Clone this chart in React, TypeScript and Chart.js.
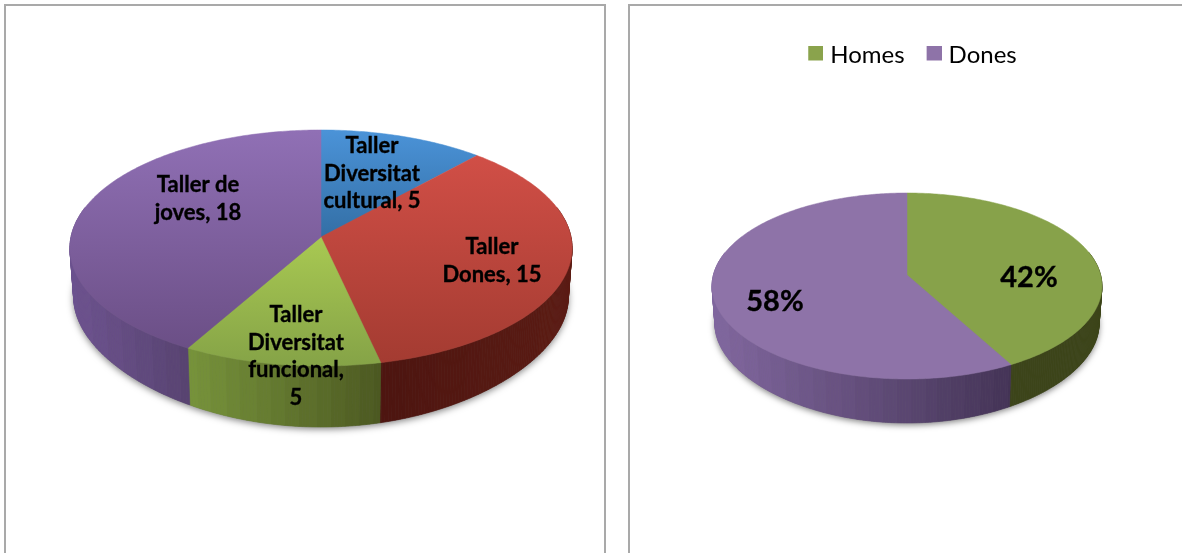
import React, { useEffect, useRef } from "react";
import { Chart, registerables } from "chart.js";

Chart.register(...registerables);

// ---- data ----
const workshopNames = ["Taller Diversitat cultural", "Taller Dones", "Taller Diversitat funcional", "Taller de joves"];
const workshopValues = [5, 15, 5, 18];
const genderNames = ["Homes", "Dones"];
const genderValues = [42, 58];

// ---- label wrapping as in the reference ----
const workshopLabelLines = [
  ["Taller", "Diversitat", `cultural, ${workshopValues[0]}`],
  ["Taller", `Dones, ${workshopValues[1]}`],
  ["Taller", "Diversitat", "funcional,", `${workshopValues[2]}`],
  ["Taller de", `joves, ${workshopValues[3]}`],
];
const genderLabelLines = [[`${genderValues[0]}%`], [`${genderValues[1]}%`]];

// ---- styles ----
type RGB = [number, number, number];
const leftStyle = {
  originX: 0,
  cx: 321, apexY: 237, A: 117, B: 250, k: 0.0932,
  depth0: 49, depth1: 12, shrink: 0.985, band: 15,
  faceTop: [[75, 147, 216], [214, 81, 73], [198, 232, 91], [144, 112, 181]] as RGB[],
  faceBottom: [[22, 67, 104], [163, 59, 49], [133, 163, 71], [104, 76, 130]] as RGB[],
  wallLeft: [[40, 80, 120], [78, 21, 16], [118, 146, 58], [108, 82, 142]] as RGB[],
  wallRight: [[40, 80, 120], [92, 28, 20], [74, 86, 32], [86, 66, 110]] as RGB[],
  wallSpan: [null, [385, 572], [186, 384], [70, 190]] as (number[] | null)[],
  font: "bold 22px Lato",
  lineHeight: 27.5,
  labelCentres: [[372, 146], [492, 247], [296, 315], [198, 185]],
  shadowBlur: 7,
};
const rightStyle = {
  originX: 629,
  cx: 907, apexY: 275, A: 91.7, B: 193.6, k: 0.1182,
  depth0: 38, depth1: 6, shrink: 0.985, band: 14,
  faceTop: [[135, 162, 74], [142, 115, 168]] as RGB[],
  faceBottom: [[135, 162, 74], [142, 115, 168]] as RGB[],
  wallLeft: [[60, 68, 26], [128, 102, 158]] as RGB[],
  wallRight: [[60, 68, 26], [66, 50, 84]] as RGB[],
  wallSpan: [[1012, 1102], [712, 1013]] as (number[] | null)[],
  font: "bold 29px Lato",
  lineHeight: 32,
  labelCentres: [[1029, 278], [775, 302]],
  shadowBlur: 6,
};
const PANEL_BORDER = "#a9a9a9";
const legendColors = ["#8aa34c", "#8e73a8"];

const rgb = (c: number[]) => `rgb(${c.map((n) => Math.round(n)).join(",")})`;
const mix = (a: number[], b: number[], t: number) => a.map((n, i) => n + (b[i] - n) * Math.max(0, Math.min(1, t)));

function tiltPlugin(s: typeof leftStyle, labels: string[][]) {
  const rim = (t: number) => {
    const u = Math.sin(t), v = -Math.cos(t), d = 1 - s.k * v;
    return { x: s.cx + (s.B * u) / d - s.originX, y: s.apexY + (s.A * v) / d, v };
  };
  const base = (t: number) => {
    const p = rim(t);
    const cx = s.cx - s.originX;
    return {
      x: cx + (p.x - cx) * s.shrink,
      y: p.y + s.depth0 + s.depth1 * Math.pow(Math.max(p.v, 0), 3),
    };
  };
  const STEP = Math.PI / 240;
  return {
    id: "tilt",
    beforeDatasetDraw(chart: any, args: any) {
      const ctx: CanvasRenderingContext2D = chart.ctx;
      const arcs = args.meta.data;
      // shadow under the whole solid
      ctx.save();
      ctx.shadowColor = "rgba(0,0,0,0.5)";
      ctx.shadowBlur = s.shadowBlur;
      ctx.shadowOffsetY = 2;
      ctx.fillStyle = "#777";
      ctx.beginPath();
      for (let t = 0; t < Math.PI * 2; t += STEP) {
        const p = base(t);
        t === 0 ? ctx.moveTo(p.x, p.y) : ctx.lineTo(p.x, p.y);
      }
      ctx.closePath();
      ctx.fill();
      ctx.restore();
      // side wall, in vertical bands
      arcs.forEach((el: any, i: number) => {
        const span = s.wallSpan[i];
        if (!span) return;
        const a0 = el.startAngle + Math.PI / 2, a1 = el.endAngle + Math.PI / 2;
        for (let t = a0; t < a1; t += STEP) {
          const t2 = Math.min(t + STEP, a1);
          const p0 = rim(t), p1 = rim(t2);
          if (p0.v < -0.25 && p1.v < -0.25) continue;
          const b0 = base(t), b1 = base(t2);
          const mid = (p0.x + p1.x) / 2 + s.originX;
          const q = Math.floor(mid / s.band) * s.band;
          const col = rgb(mix(s.wallLeft[i], s.wallRight[i], (q - span[0]) / (span[1] - span[0])));
          ctx.fillStyle = col;
          ctx.strokeStyle = col;
          ctx.lineWidth = 0.6;
          ctx.beginPath();
          ctx.moveTo(p0.x, p0.y);
          ctx.lineTo(p1.x, p1.y);
          ctx.lineTo(b1.x, b1.y);
          ctx.lineTo(b0.x, b0.y);
          ctx.closePath();
          ctx.fill();
          ctx.stroke();
        }
      });
      // top faces
      const yTop = rim(0).y, yBottom = rim(Math.PI).y;
      arcs.forEach((el: any, i: number) => {
        const g = ctx.createLinearGradient(0, yTop, 0, yBottom);
        g.addColorStop(0, rgb(s.faceTop[i]));
        g.addColorStop(1, rgb(s.faceBottom[i]));
        ctx.fillStyle = g;
        ctx.strokeStyle = g;
        ctx.lineWidth = 0.5;
        ctx.beginPath();
        ctx.moveTo(s.cx - s.originX, s.apexY);
        const a0 = el.startAngle + Math.PI / 2, a1 = el.endAngle + Math.PI / 2;
        for (let t = a0; t < a1; t += STEP) {
          const p = rim(t);
          ctx.lineTo(p.x, p.y);
        }
        const pe = rim(a1);
        ctx.lineTo(pe.x, pe.y);
        ctx.closePath();
        ctx.fill();
        ctx.stroke();
      });
      return false;
    },
    afterDatasetsDraw(chart: any) {
      const ctx: CanvasRenderingContext2D = chart.ctx;
      ctx.save();
      ctx.fillStyle = "#000";
      ctx.strokeStyle = "#000";
      ctx.lineWidth = 0.35;
      ctx.font = s.font;
      ctx.textAlign = "center";
      ctx.textBaseline = "middle";
      labels.forEach((lines, i) => {
        const [x, y] = s.labelCentres[i];
        lines.forEach((line, j) => {
          ctx.fillText(line, x - s.originX, y + j * s.lineHeight);
          ctx.strokeText(line, x - s.originX, y + j * s.lineHeight);
        });
      });
      ctx.restore();
    },
  };
}

function legendSquare(color: string) {
  const c = document.createElement("canvas");
  c.width = 34;
  c.height = 19;
  const x = c.getContext("2d")!;
  x.fillStyle = color;
  x.fillRect(19, 0, 15, 15);
  return c;
}

export default function App() {
  const leftRef = useRef<HTMLCanvasElement>(null);
  const rightRef = useRef<HTMLCanvasElement>(null);

  useEffect(() => {
    const left = new Chart(leftRef.current!, {
      type: "pie",
      data: {
        labels: workshopNames,
        datasets: [{ data: workshopValues, backgroundColor: ["#4f81bd", "#c0504d", "#9bbb59", "#8064a2"], borderWidth: 0 }],
      },
      options: {
        animation: false,
        responsive: false,
        plugins: { legend: { display: false }, tooltip: { enabled: false } },
      },
      plugins: [tiltPlugin(leftStyle, workshopLabelLines)],
    } as any);
    const right = new Chart(rightRef.current!, {
      type: "pie",
      data: {
        labels: genderNames,
        datasets: [{ data: genderValues, backgroundColor: legendColors, borderWidth: 0 }],
      },
      options: {
        animation: false,
        responsive: false,
        layout: { padding: { top: 35 } },
        plugins: {
          tooltip: { enabled: false },
          legend: {
            display: true,
            position: "top",
            labels: {
              usePointStyle: true,
              boxHeight: 15,
              padding: 8,
              color: "#000",
              font: { family: "Lato", size: 24 },
              generateLabels: () =>
                genderNames.map((text, i) => ({
                  text,
                  index: i,
                  fillStyle: legendColors[i],
                  strokeStyle: legendColors[i],
                  lineWidth: 0,
                  pointStyle: legendSquare(legendColors[i]),
                })),
            },
          },
        },
      },
      plugins: [tiltPlugin(rightStyle as any, genderLabelLines)],
    } as any);
    return () => {
      left.destroy();
      right.destroy();
    };
  }, []);

  const panel = (l: number, w: number): React.CSSProperties => ({
    position: "absolute",
    left: l,
    top: 4,
    width: w,
    height: 560,
    borderLeft: `2px solid ${PANEL_BORDER}`,
    borderRight: `2px solid ${PANEL_BORDER}`,
    borderTop: `2px solid ${PANEL_BORDER}`,
    boxSizing: "border-box",
    background: "#fff",
  });

  return (
    <div style={{ position: "absolute", left: 0, top: 0, width: 1182, height: 553, overflow: "hidden", background: "#fff" }}>
      <div style={panel(4, 602)} />
      <div style={panel(628, 620)} />
      <canvas ref={leftRef} width={620} height={553} style={{ position: "absolute", left: 0, top: 0, width: 620, height: 553 }} />
      <canvas ref={rightRef} width={553} height={553} style={{ position: "absolute", left: 629, top: 0, width: 553, height: 553 }} />
    </div>
  );
}
